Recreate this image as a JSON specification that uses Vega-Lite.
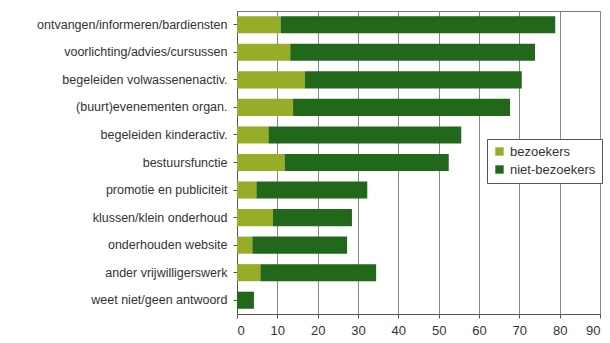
{
  "$schema": "https://vega.github.io/schema/vega-lite/v6.json",
  "width": 363,
  "height": 303,
  "padding": {"left": 5, "top": 11, "right": 5, "bottom": 5},
  "background": "white",
  "config": {
    "font": "Liberation Sans",
    "view": {"stroke": "#777", "strokeWidth": 1}
  },
  "data": {
    "values": [
      {"activiteit": "ontvangen/informeren/bardiensten", "groep": "bezoekers", "waarde": 10.8, "volgorde": 1},
      {"activiteit": "ontvangen/informeren/bardiensten", "groep": "niet-bezoekers", "waarde": 68.1, "volgorde": 2},
      {"activiteit": "voorlichting/advies/cursussen", "groep": "bezoekers", "waarde": 13.2, "volgorde": 1},
      {"activiteit": "voorlichting/advies/cursussen", "groep": "niet-bezoekers", "waarde": 60.7, "volgorde": 2},
      {"activiteit": "begeleiden volwassenenactiv.", "groep": "bezoekers", "waarde": 16.8, "volgorde": 1},
      {"activiteit": "begeleiden volwassenenactiv.", "groep": "niet-bezoekers", "waarde": 53.8, "volgorde": 2},
      {"activiteit": "(buurt)evenementen organ.", "groep": "bezoekers", "waarde": 13.9, "volgorde": 1},
      {"activiteit": "(buurt)evenementen organ.", "groep": "niet-bezoekers", "waarde": 53.8, "volgorde": 2},
      {"activiteit": "begeleiden kinderactiv.", "groep": "bezoekers", "waarde": 7.8, "volgorde": 1},
      {"activiteit": "begeleiden kinderactiv.", "groep": "niet-bezoekers", "waarde": 47.8, "volgorde": 2},
      {"activiteit": "bestuursfunctie", "groep": "bezoekers", "waarde": 11.8, "volgorde": 1},
      {"activiteit": "bestuursfunctie", "groep": "niet-bezoekers", "waarde": 40.7, "volgorde": 2},
      {"activiteit": "promotie en publiciteit", "groep": "bezoekers", "waarde": 4.8, "volgorde": 1},
      {"activiteit": "promotie en publiciteit", "groep": "niet-bezoekers", "waarde": 27.5, "volgorde": 2},
      {"activiteit": "klussen/klein onderhoud", "groep": "bezoekers", "waarde": 8.9, "volgorde": 1},
      {"activiteit": "klussen/klein onderhoud", "groep": "niet-bezoekers", "waarde": 19.6, "volgorde": 2},
      {"activiteit": "onderhouden website", "groep": "bezoekers", "waarde": 3.8, "volgorde": 1},
      {"activiteit": "onderhouden website", "groep": "niet-bezoekers", "waarde": 23.5, "volgorde": 2},
      {"activiteit": "ander vrijwilligerswerk", "groep": "bezoekers", "waarde": 5.8, "volgorde": 1},
      {"activiteit": "ander vrijwilligerswerk", "groep": "niet-bezoekers", "waarde": 28.7, "volgorde": 2},
      {"activiteit": "weet niet/geen antwoord", "groep": "bezoekers", "waarde": 0, "volgorde": 1},
      {"activiteit": "weet niet/geen antwoord", "groep": "niet-bezoekers", "waarde": 4.2, "volgorde": 2}
    ]
  },
  "mark": {"type": "bar"},
  "encoding": {
    "y": {
      "field": "activiteit",
      "type": "nominal",
      "sort": null,
      "scale": {"paddingInner": 0.38, "paddingOuter": 0.19},
      "axis": {
        "title": null,
        "labelFontSize": 12.5,
        "labelColor": "#333",
        "labelPadding": 6,
        "labelLimit": 240,
        "tickSize": 4,
        "tickColor": "#555",
        "domainColor": "#555",
        "minExtent": 232
      }
    },
    "x": {
      "field": "waarde",
      "type": "quantitative",
      "stack": "zero",
      "scale": {"domain": [0, 90], "nice": false},
      "axis": {
        "title": null,
        "values": [0, 10, 20, 30, 40, 50, 60, 70, 80, 90],
        "labelFontSize": 13,
        "labelColor": "#333",
        "labelPadding": 6,
        "tickSize": 4,
        "tickColor": "#555",
        "domainColor": "#555",
        "grid": true,
        "gridColor": "#888"
      }
    },
    "color": {
      "field": "groep",
      "type": "nominal",
      "scale": {"domain": ["bezoekers", "niet-bezoekers"], "range": ["#98ad27", "#22681a"]},
      "legend": {
        "title": null,
        "orient": "none",
        "legendX": 250,
        "legendY": 128,
        "symbolType": "square",
        "symbolSize": 70,
        "symbolStrokeWidth": 0,
        "labelFontSize": 13,
        "labelColor": "#333",
        "rowPadding": 4,
        "padding": 6,
        "strokeColor": "#555",
        "fillColor": "white",
        "labelLimit": 200
      }
    },
    "order": {"field": "volgorde", "type": "quantitative"}
  }
}
